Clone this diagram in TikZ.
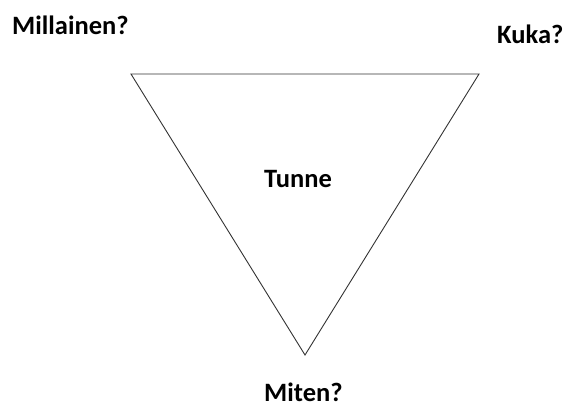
\documentclass[tikz,border=0pt]{standalone}
\usepackage{fontspec}
\setmainfont{Carlito}
\usetikzlibrary{positioning}

\tikzset{
  label/.style={font=\fontsize{26.5}{30}\selectfont\bfseries, inner sep=0pt, anchor=base west},
}

\begin{document}
\begin{tikzpicture}[x=1pt,y=-1pt]
\useasboundingbox (0,0) rectangle (567,410);

% Kolmio
\coordinate (vasen) at (131,74);
\coordinate (oikea) at (479,74);
\coordinate (ala) at (305,355);
\draw[line width=0.9pt, black!80, line join=miter] (vasen) -- (oikea) -- (ala) -- cycle;

% Tekstit
\node[label] (millainen) at (12,34) {Millainen?};
\node[label] (kuka) at (497,43) {Kuka?};
\node[label] (tunne) at (264,187) {Tunne};
\node[label] (miten) at (264,401) {Miten?};

\end{tikzpicture}
\end{document}
